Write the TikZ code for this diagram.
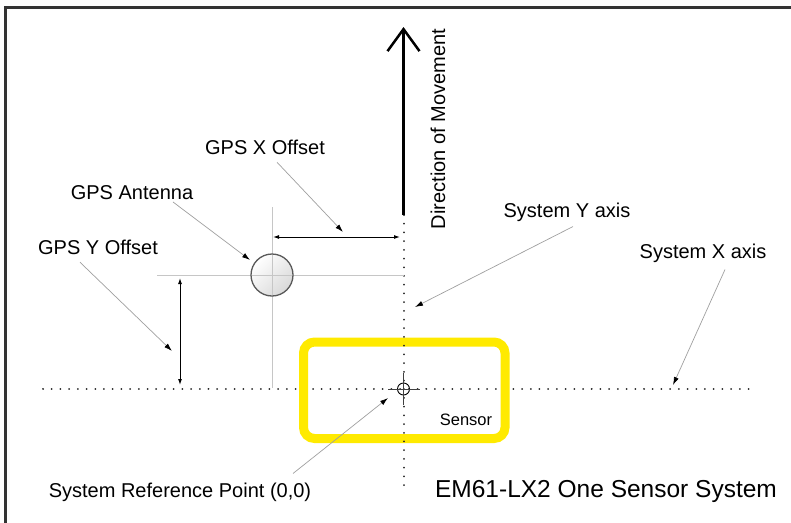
\documentclass[tikz,border=0pt]{standalone}
\usepackage{fontspec}
\setmainfont{Liberation Sans}
\usetikzlibrary{arrows.meta,positioning}

\definecolor{sensoryellow}{RGB}{255,234,0}
\tikzset{
    lbl/.style={font=\fontsize{20}{24}\selectfont, inner sep=1pt},
    leader/.style={draw=gray!75, line width=0.7pt, -{Latex[length=8pt,width=5pt,color=black]}},
    dimline/.style={line width=1pt, {Latex[length=6pt,width=4pt]}-{Latex[length=6pt,width=4pt]}},
    guide/.style={draw=gray!45, line width=0.9pt},
    axisdots/.style={line width=2pt, dash pattern=on 0.01pt off 8.7pt, line cap=round, draw=black!85},
    sensorbox/.style={draw=sensoryellow, line width=9pt, rounded corners=11pt},
    antennaball/.style={circle, minimum size=42pt, inner sep=0pt, draw=gray!70!black, line width=1.3pt,
        shading=axis, top color=white, bottom color=gray!30, shading angle=45},
    frameline/.style={draw=black!80, line width=3.5pt}
}

\begin{document}
\begin{tikzpicture}[x=1pt, y=-1pt]
        \useasboundingbox (0,0) rectangle (791,522);
        \begin{scope}
            \clip (0,0) rectangle (791,522);
            \draw[frameline] (5.5,7.5) rectangle (810,540);
        \end{scope}

        \coordinate (origin) at (403.5,389);
        \coordinate (ytop) at (403.5,215);
        \coordinate (ybottom) at (403.5,487);
        \coordinate (xleft) at (43,389);
        \coordinate (xright) at (755,389);
        \coordinate (arrowtip) at (403.5,27);

        \draw[axisdots] (xleft) -- (xright);
        \draw[sensorbox] (303.5,342) rectangle (505,438.5);
        \draw[axisdots] (ytop) -- (ybottom);
        \draw[line width=2.5pt, -{Straight Barb[length=22pt,width=32pt,line width=2.5pt]}] (ytop) -- (arrowtip);

        \draw[guide] (272,207) -- (272,388);
        \draw[guide] (157,275) -- (403.5,275);
        \node[antennaball] (antenna) at (272,275) {};
        \draw[guide] (272,255) -- (272,295);
        \draw[guide] (252,275) -- (292,275);

        \draw[dimline] (273,237) -- (400,237);
        \draw[dimline] (180,278) -- (180,385);

        \draw[line width=0.9pt] (origin) circle (6pt);
        \draw[line width=0.8pt, black!75] (388,389) -- (420,389);
        \draw[line width=0.8pt, black!75] (403.5,373) -- (403.5,405);

        \node[lbl] (xoff) at (265,147.7) {GPS X Offset};
        \node[lbl] (ant) at (132,192.7) {GPS Antenna};
        \node[lbl] (yoff) at (98,247.7) {GPS Y Offset};
        \node[lbl] (yaxis) at (567,212) {System Y axis};
        \node[lbl] (xaxis) at (703,253) {System X axis};
        \node[lbl] (refpt) at (180,492) {System Reference Point (0,0)};
        \node[lbl, rotate=90] (dir) at (438,129) {Direction of Movement};
        \node[font=\fontsize{16.5}{20}\selectfont, inner sep=1pt] (sensor) at (466,419.5) {Sensor};
        \node[font=\fontsize{24.5}{29}\selectfont, inner sep=1pt] (title) at (606,491.5) {EM61-LX2 One Sensor System};

        \coordinate (xofftip) at (343,232);
        \coordinate (anttip) at (250,260);
        \coordinate (yofftip) at (172,351);
        \coordinate (yaxistip) at (415,307);
        \coordinate (xaxistip) at (673,385);
        \coordinate (reftip) at (388,398);

        \draw[leader] ([xshift=12pt,yshift=-6pt]xoff.south) -- (xofftip);
        \draw[leader] ([xshift=41pt,yshift=-1pt]ant.south) -- (anttip);
        \draw[leader] ([xshift=-18pt,yshift=-6pt]yoff.south) -- (yofftip);
        \draw[leader] ([xshift=6pt,yshift=-4pt]yaxis.south) -- (yaxistip);
        \draw[leader] ([xshift=22pt,yshift=-6pt]xaxis.south) -- (xaxistip);
        \draw[leader] ([xshift=113pt,yshift=8pt]refpt.north) -- (reftip);
\end{tikzpicture}
\end{document}
